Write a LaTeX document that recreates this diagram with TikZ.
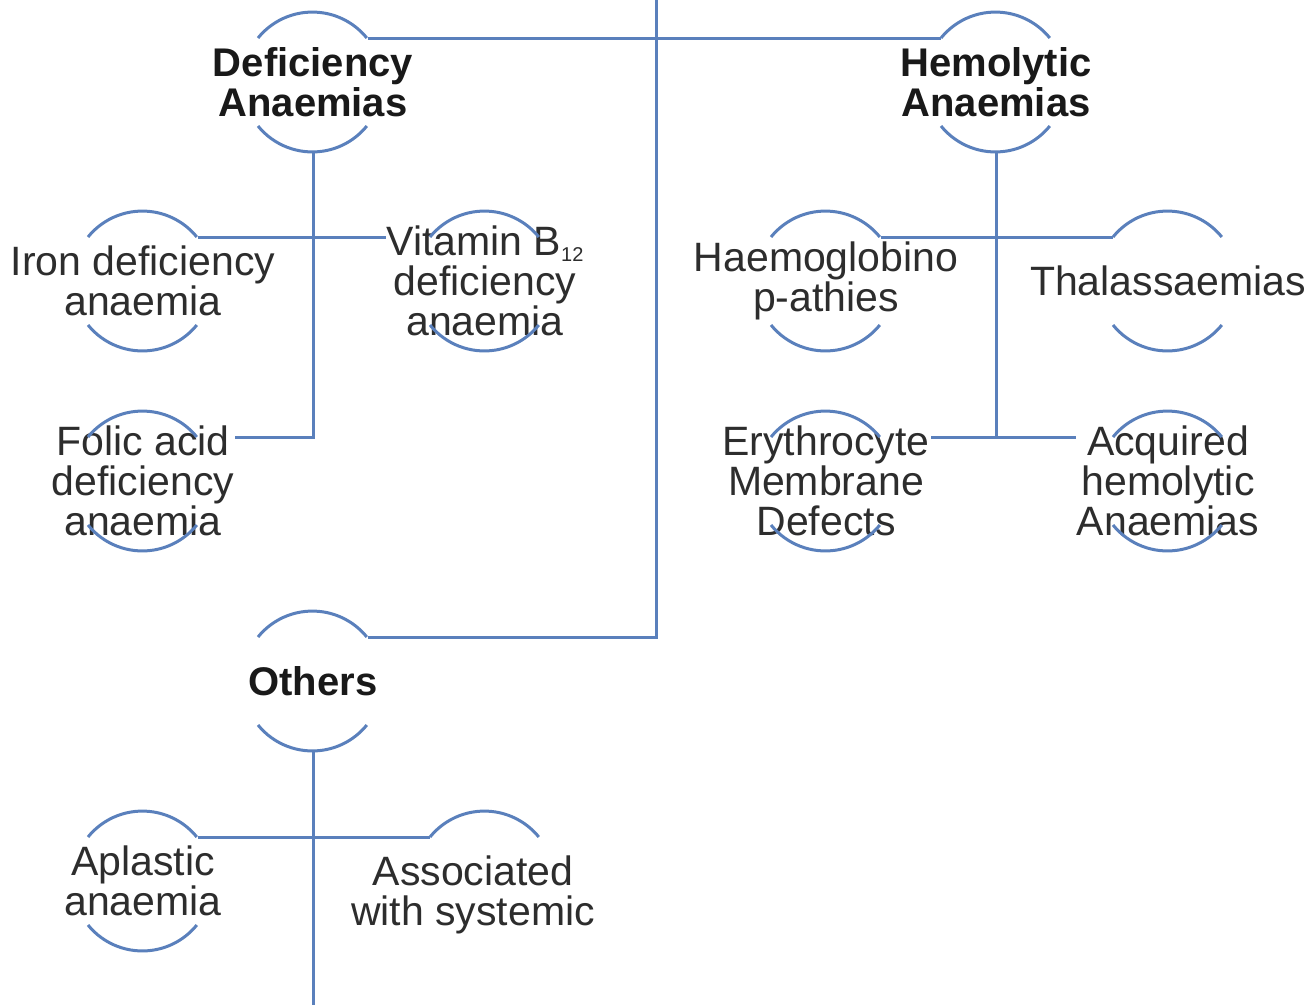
\documentclass[tikz,border=0pt]{standalone}
\usepackage{fontspec}
\setmainfont{Liberation Sans}
\definecolor{ln}{RGB}{90,128,188}
\definecolor{tx}{RGB}{45,45,45}
\newcommand\bubpts[3]{%
  \coordinate (#1-c) at (#2,#3);
  \coordinate (#1-tl) at ([shift={(-55,-44)}]#2,#3);
  \coordinate (#1-tr) at ([shift={(55,-44)}]#2,#3);
  \coordinate (#1-bl) at ([shift={(-55,44)}]#2,#3);
  \coordinate (#1-br) at ([shift={(55,44)}]#2,#3);
  \coordinate (#1-t) at ([shift={(0,-70)}]#2,#3);
  \coordinate (#1-b) at ([shift={(0,70)}]#2,#3);
}
\newcommand\toparc[1]{\draw[arcl] (#1-tl) arc[start angle=141,end angle=39,radius=70pt];}
\newcommand\botarc[1]{\draw[arcl] (#1-bl) arc[start angle=219,end angle=321,radius=70pt];}
\begin{document}
\begin{tikzpicture}[x=1pt,y=-1pt,
  conn/.style={draw=ln,line width=3pt},
  arcl/.style={draw=ln,line width=3pt},
  lbl/.style={text=tx,align=center,font=\fontsize{41}{40}\selectfont,inner sep=1pt,fill=white},
  hd/.style={lbl,font=\fontsize{40}{40}\selectfont\bfseries,text=black!90}]
\useasboundingbox[fill=white] (0,0) rectangle (1313,1005);
\bubpts{D}{313}{82}
\bubpts{H}{996}{82}
\bubpts{O}{313}{681}
\bubpts{iron}{143}{281}
\bubpts{vit}{485}{281}
\bubpts{folic}{143}{481}
\bubpts{haem}{826}{281}
\bubpts{thal}{1168}{281}
\bubpts{ery}{826}{481}
\bubpts{acq}{1168}{481}
\bubpts{apl}{143}{881}
\bubpts{assoc}{485}{881}
\coordinate (root) at (656,0);
\coordinate (oend) at (313,1005);
% connectors
\draw[conn] (D-tr) -- (H-tl);
\draw[conn] (root) |- (O-tr);
\draw[conn] (D-b) |- (folic-tr);
\draw[conn] (iron-tr) -- (vit-tl);
\draw[conn] (H-b) -- (H-b |- acq-tl);
\draw[conn] (haem-tr) -- (thal-tl);
\draw[conn] (ery-tr) -- (acq-tl);
\draw[conn] (O-b) -- (oend);
\draw[conn] (apl-tr) -- (assoc-tl);
% labels
\node[hd] (nD) at (D-c) {Deficiency\\Anaemias};
\node[hd] (nH) at (H-c) {Hemolytic\\Anaemias};
\node[hd] (nO) at (O-c) {Others};
\node[lbl] (niron) at (iron-c) {Iron deficiency\\anaemia};
\node[lbl] (nvit) at (vit-c) {Vitamin B\raisebox{-0.25ex}{\fontsize{20}{20}\selectfont 12}\\deficiency\\anaemia};
\node[lbl] (nfolic) at (folic-c) {Folic acid\\deficiency\\anaemia};
\node[lbl] (nhaem) at (haem-c) {Haemoglobino\\p-athies};
\node[lbl] (nthal) at (thal-c) {Thalassaemias};
\node[lbl] (nery) at (ery-c) {Erythrocyte\\Membrane\\Defects};
\node[lbl] (nacq) at (acq-c) {Acquired\\hemolytic\\Anaemias};
\node[lbl] (napl) at (apl-c) {Aplastic\\anaemia};
\node[lbl] (nassoc) at (473,895) {Associated\\with systemic};
% arcs
\foreach \n in {D,H,O,iron,vit,folic,haem,thal,ery,acq,apl}{\toparc{\n}\botarc{\n}}
\toparc{assoc}
\end{tikzpicture}
\end{document}
